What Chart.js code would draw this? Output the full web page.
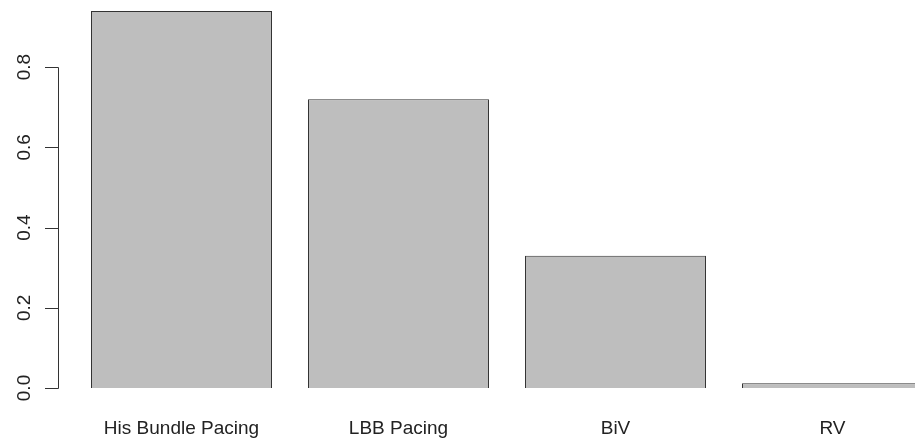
<!DOCTYPE html>
<html lang="en">
<head>
  <meta charset="UTF-8">
  <title>Pacing barplot</title>
  <script src="https://cdn.jsdelivr.net/npm/chart.js"></script>
  <style>
    html, body { margin: 0; padding: 0; background: #fff; overflow: hidden; }
    #wrap { width: 960px; height: 439px; }
  </style>
</head>
<body>
  <div id="wrap"><canvas id="barChart"></canvas></div>

  <script>
    const categories = ['His Bundle Pacing', 'LBB Pacing', 'BiV', 'RV'];
    const values = [0.94, 0.72, 0.33, 0.012];
    const yTicks = [0.0, 0.2, 0.4, 0.6, 0.8];

    // R-style left axis: detached line, outward ticks, rotated labels
    const rAxis = {
      id: 'rAxis',
      afterDraw(chart) {
        const ctx = chart.ctx;
        const y = chart.scales.y;
        const x0 = 58;
        ctx.save();
        ctx.strokeStyle = '#333';
        ctx.lineWidth = 1;
        ctx.beginPath();
        ctx.moveTo(x0 + 0.5, Math.round(y.getPixelForValue(yTicks[0])) + 0.5);
        ctx.lineTo(x0 + 0.5, Math.round(y.getPixelForValue(yTicks[yTicks.length - 1])) + 0.5);
        yTicks.forEach(v => {
          const py = Math.round(y.getPixelForValue(v)) + 0.5;
          ctx.moveTo(x0 + 0.5, py);
          ctx.lineTo(x0 - 13, py);
        });
        ctx.stroke();

        ctx.fillStyle = '#222';
        ctx.font = '19px "Liberation Sans", Arial, sans-serif';
        ctx.textAlign = 'center';
        ctx.textBaseline = 'alphabetic';
        yTicks.forEach(v => {
          ctx.save();
          ctx.translate(30, y.getPixelForValue(v));
          ctx.rotate(-Math.PI / 2);
          ctx.fillText(v.toFixed(1), 0, 0);
          ctx.restore();
        });
        ctx.restore();
      }
    };

    new Chart(document.getElementById('barChart'), {
      type: 'bar',
      data: {
        labels: categories,
        datasets: [{
          data: values,
          backgroundColor: '#bebebe',
          borderColor: '#333',
          borderWidth: 1,
          barPercentage: 0.834,
          categoryPercentage: 1.0
        }]
      },
      options: {
        responsive: true,
        maintainAspectRatio: false,
        animation: false,
        layout: { padding: { left: 73, right: 19, top: 7, bottom: 0 } },
        plugins: { legend: { display: false }, tooltip: { enabled: false } },
        scales: {
          x: {
            grid: { display: false, drawTicks: false },
            border: { display: false },
            ticks: {
              color: '#222',
              font: { family: '"Liberation Sans", Arial, sans-serif', size: 19 },
              padding: 29,
              maxRotation: 0
            },
            afterFit(scale) { scale.height = 51; }
          },
          y: {
            display: false,
            min: 0,
            max: 0.95
          }
        }
      },
      plugins: [rAxis]
    });
  </script>
</body>
</html>
